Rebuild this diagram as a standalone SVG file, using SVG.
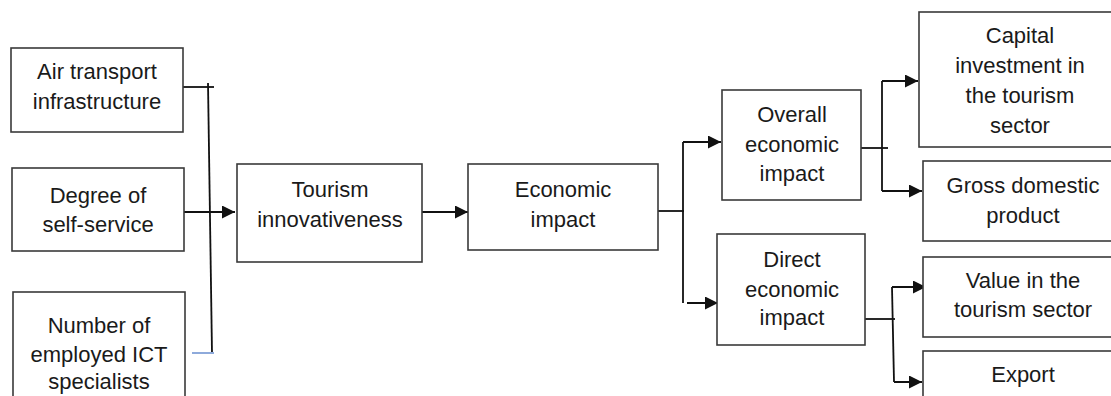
<svg xmlns="http://www.w3.org/2000/svg" width="1111" height="396" viewBox="0 0 1111 396">
<defs>
<style>
.box{fill:#fff;stroke:#3a3a3a;stroke-width:1.6}
.t{font-family:"Liberation Sans",Arial,sans-serif;font-size:22px;fill:#1a1a1a;text-anchor:middle}
.c{fill:none;stroke:#111;stroke-width:1.8}
.a{fill:none;stroke:#111;stroke-width:2;marker-end:url(#ah)}
</style>
<marker id="ah" viewBox="0 0 10 10" refX="10" refY="5" markerWidth="13" markerHeight="13" markerUnits="userSpaceOnUse" orient="auto">
<path d="M0,0 L10,5 L0,10 z" fill="#111"/>
</marker>
</defs>
<rect width="1111" height="396" fill="#fff"/>
<g id="connectors">
<path class="c" d="M183,87 H214"/>
<path class="c" d="M208,83 L212,353"/>
<path d="M192,353 H214" stroke="#8eaadb" stroke-width="2"/>
<path class="a" d="M184,212 H235"/>
<path class="a" d="M422,212 H468"/>
<path class="c" d="M658,211 H684"/>
<path class="c" d="M683,142 V303"/>
<path class="a" d="M683,142 H721"/>
<path class="a" d="M687,303 H718"/>
<path class="c" d="M861,148 H888"/>
<path class="c" d="M882,81 V191"/>
<path class="a" d="M882,81 H918"/>
<path class="a" d="M882,191 H922"/>
<path class="c" d="M865,319 H895"/>
<path class="c" d="M892,287 L894,382"/>
<path class="a" d="M892,287 H926"/>
<path class="a" d="M894,382 H922"/>
</g>
<g id="air">
<rect class="box" x="11" y="48" width="172" height="84"/>
<text class="t" x="97" y="79">Air transport</text>
<text class="t" x="97" y="109">infrastructure</text>
</g>
<g id="degree">
<rect class="box" x="12" y="168" width="172" height="83"/>
<text class="t" x="98" y="203">Degree of</text>
<text class="t" x="98" y="232">self-service</text>
</g>
<g id="ict">
<rect class="box" x="13" y="292" width="172" height="120"/>
<text class="t" x="99" y="333">Number of</text>
<text class="t" x="99" y="362">employed ICT</text>
<text class="t" x="99" y="389">specialists</text>
</g>
<g id="tourism">
<rect class="box" x="237" y="164" width="185" height="98"/>
<text class="t" x="330" y="197">Tourism</text>
<text class="t" x="330" y="227">innovativeness</text>
</g>
<g id="economic">
<rect class="box" x="468" y="164" width="190" height="86"/>
<text class="t" x="563" y="197">Economic</text>
<text class="t" x="563" y="227">impact</text>
</g>
<g id="overall">
<rect class="box" x="722" y="90" width="139" height="110"/>
<text class="t" x="792" y="122">Overall</text>
<text class="t" x="792" y="152">economic</text>
<text class="t" x="792" y="181">impact</text>
</g>
<g id="direct">
<rect class="box" x="717" y="234" width="148" height="111"/>
<text class="t" x="792" y="267">Direct</text>
<text class="t" x="792" y="297">economic</text>
<text class="t" x="792" y="325">impact</text>
</g>
<g id="capital">
<rect class="box" x="919" y="12" width="200" height="135"/>
<text class="t" x="1020" y="43">Capital</text>
<text class="t" x="1020" y="73">investment in</text>
<text class="t" x="1020" y="103">the tourism</text>
<text class="t" x="1020" y="133">sector</text>
</g>
<g id="gdp">
<rect class="box" x="923" y="161" width="200" height="80"/>
<text class="t" x="1023" y="193">Gross domestic</text>
<text class="t" x="1023" y="223">product</text>
</g>
<g id="value">
<rect class="box" x="923" y="257" width="200" height="80"/>
<text class="t" x="1023" y="288">Value in the</text>
<text class="t" x="1023" y="317">tourism sector</text>
</g>
<g id="export">
<rect class="box" x="923" y="351" width="200" height="60"/>
<text class="t" x="1023" y="382">Export</text>
</g>
</svg>
